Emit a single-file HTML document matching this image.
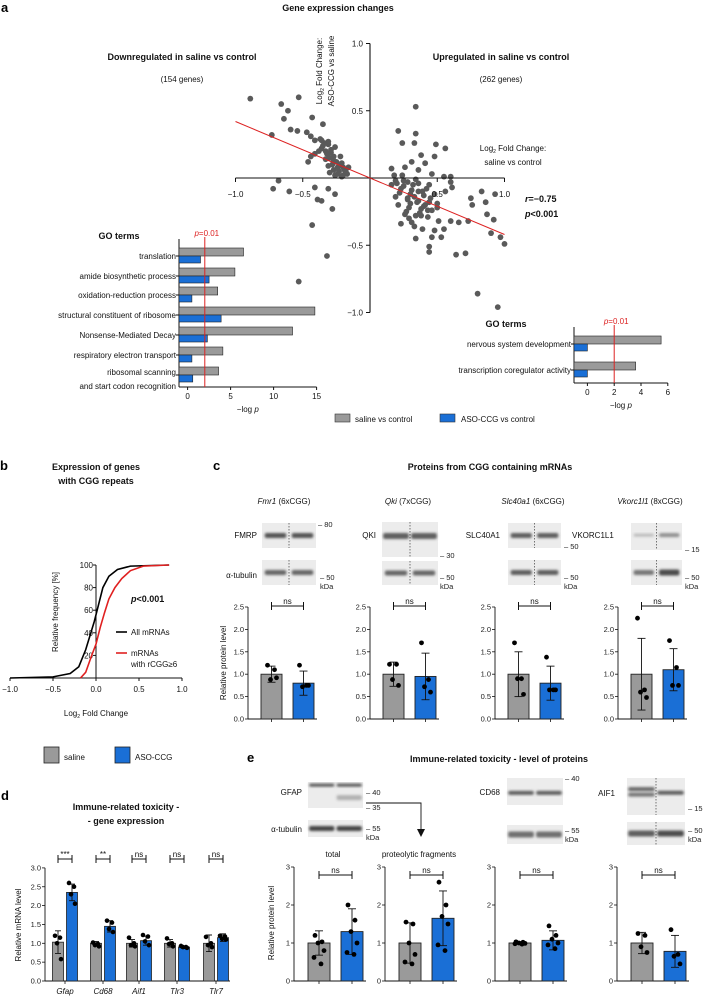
<!DOCTYPE html>
<html><head><meta charset="utf-8"><style>
body{margin:0;background:#fff}
svg{display:block;font-family:"Liberation Sans",sans-serif}
.t{font-size:8px;fill:#111}
.tk{font-size:7.5px;fill:#222}
.b{font-weight:bold;font-size:9px;fill:#111}
.pl{font-weight:bold;font-size:13px;fill:#000}
</style></head><body>
<svg id="fig" width="704" height="1000" viewBox="0 0 704 1000">
<defs><filter id="bl" x="-20%" y="-50%" width="140%" height="200%"><feGaussianBlur stdDeviation="1.3"/></filter></defs>
<text class="pl" x="1" y="12">a</text>
<text class="b" x="338" y="11" text-anchor="middle">Gene expression changes</text>
<text class="b" x="182" y="60" text-anchor="middle">Downregulated in saline vs control</text>
<text class="t" x="182" y="82" text-anchor="middle" font-size="9">(154 genes)</text>
<text class="b" x="501" y="60" text-anchor="middle">Upregulated in saline vs control</text>
<text class="t" x="501" y="82" text-anchor="middle" font-size="9">(262 genes)</text>
<g transform="translate(322,71) rotate(-90)"><text class="t" x="0" y="0" text-anchor="middle" font-size="9">Log<tspan font-size="5" dy="2">2</tspan><tspan dy="-2"> Fold Change:</tspan></text><text class="t" x="0" y="12" text-anchor="middle" font-size="9">ASO-CCG vs saline</text></g>
<text class="t" x="513" y="151" text-anchor="middle" font-size="9">Log<tspan font-size="5" dy="2">2</tspan><tspan dy="-2"> Fold Change:</tspan></text>
<text class="t" x="513" y="165" text-anchor="middle" font-size="9">saline vs control</text>
<text class="b" x="525" y="202"><tspan font-style="italic">r</tspan>=−0.75</text>
<text class="b" x="525" y="217"><tspan font-style="italic">p</tspan>&lt;0.001</text>
<text class="b" x="119" y="239" text-anchor="middle">GO terms</text>
<text class="b" x="506" y="327" text-anchor="middle">GO terms</text>
<g id="scatter"></g>
<g id="goL"></g>
<g id="goR"></g>
<g>
<rect x="335" y="414" width="15" height="8" fill="#9a9a9a" stroke="#333" stroke-width="0.6"/>
<text class="t" x="355" y="422" font-size="9">saline vs control</text>
<rect x="440" y="414" width="15" height="8" fill="#1a6fd6" stroke="#333" stroke-width="0.6"/>
<text class="t" x="461" y="422" font-size="9">ASO-CCG vs control</text>
</g>
<text class="pl" x="0" y="470">b</text>
<text class="b" x="96" y="470" text-anchor="middle">Expression of genes</text>
<text class="b" x="96" y="484" text-anchor="middle">with CGG repeats</text>
<g id="cdf"></g>
<text class="t" x="96" y="716" text-anchor="middle" font-size="9">Log<tspan font-size="5" dy="2">2</tspan><tspan dy="-2"> Fold Change</tspan></text>
<text class="t" transform="translate(58,612) rotate(-90)" text-anchor="middle" font-size="9">Relative frequency [%]</text>
<text class="b" x="131" y="602"><tspan font-style="italic">p</tspan>&lt;0.001</text>
<line x1="116" y1="632" x2="127" y2="632" stroke="#000" stroke-width="1.6"/>
<text class="t" x="131" y="635" font-size="9">All mRNAs</text>
<line x1="116" y1="653" x2="127" y2="653" stroke="#e02020" stroke-width="1.6"/>
<text class="t" x="131" y="656" font-size="9">mRNAs</text>
<text class="t" x="131" y="667" font-size="9">with rCGG≥6</text>
<text class="pl" x="213" y="470">c</text>
<text class="b" x="490" y="470" text-anchor="middle">Proteins from CGG containing mRNAs</text>
<text class="t" x="284" y="504" text-anchor="middle" font-size="9"><tspan font-style="italic">Fmr1</tspan> (6xCGG)</text>
<text class="t" x="408" y="504" text-anchor="middle" font-size="9"><tspan font-style="italic">Qki</tspan> (7xCGG)</text>
<text class="t" x="533" y="504" text-anchor="middle" font-size="9"><tspan font-style="italic">Slc40a1</tspan> (6xCGG)</text>
<text class="t" x="650" y="504" text-anchor="middle" font-size="9"><tspan font-style="italic">Vkorc1l1</tspan> (8xCGG)</text>
<text class="t" x="257" y="538" text-anchor="end" font-size="9">FMRP</text>
<text class="t" x="257" y="578" text-anchor="end" font-size="9">α-tubulin</text>
<text class="t" x="376" y="538" text-anchor="end" font-size="9">QKI</text>
<text class="t" x="500" y="538" text-anchor="end" font-size="9">SLC40A1</text>
<text class="t" x="572" y="538" font-size="9">VKORC1L1</text>
<g id="blots"></g>
<g id="barsC"></g>
<text class="t" transform="translate(226,663) rotate(-90)" text-anchor="middle" font-size="9">Relative protein level</text>
<rect x="44" y="747" width="15" height="16" fill="#9a9a9a" stroke="#222" stroke-width="0.8"/>
<text class="t" x="64" y="760" font-size="9">saline</text>
<rect x="115" y="747" width="15" height="16" fill="#1a6fd6" stroke="#222" stroke-width="0.8"/>
<text class="t" x="135" y="760" font-size="9">ASO-CCG</text>
<text class="pl" x="1" y="800">d</text>
<text class="b" x="126" y="810" text-anchor="middle">Immune-related toxicity -</text>
<text class="b" x="126" y="824" text-anchor="middle">- gene expression</text>
<g id="barsD"></g>
<text class="t" transform="translate(21,925) rotate(-90)" text-anchor="middle" font-size="9">Relative mRNA level</text>
<text class="pl" x="247" y="762">e</text>
<text class="b" x="499" y="762" text-anchor="middle">Immune-related toxicity - level of proteins</text>
<text class="t" x="302" y="795" text-anchor="end" font-size="9">GFAP</text>
<text class="t" x="302" y="832" text-anchor="end" font-size="9">α-tubulin</text>
<text class="t" x="500" y="795" text-anchor="end" font-size="9">CD68</text>
<text class="t" x="615" y="796" text-anchor="end" font-size="9">AIF1</text>
<path d="M366,803 H421 V830" fill="none" stroke="#111" stroke-width="0.9"/>
<path d="M417,829 L425,829 L421,837 Z" fill="#111"/>
<text class="t" x="333" y="857" text-anchor="middle" font-size="9">total</text>
<text class="t" x="419" y="857" text-anchor="middle" font-size="9">proteolytic fragments</text>
<g id="barsE"></g>
<text class="t" transform="translate(274,923) rotate(-90)" text-anchor="middle" font-size="9">Relative protein level</text>
</svg>
<script>
const NS='http://www.w3.org/2000/svg';
function mk(tag,attrs,parent){const e=document.createElementNS(NS,tag);for(const k in attrs)e.setAttribute(k,attrs[k]);parent.appendChild(e);return e;}
function txt(s,attrs,parent){const e=mk('text',attrs,parent);e.textContent=s;return e;}

const scatterX=[-0.89,-0.53,-0.66,-0.61,-0.64,-0.43,-0.35,-0.73,-0.59,-0.54,-0.47,-0.44,-0.41,-0.37,-0.34,-0.31,-0.36,-0.32,-0.29,-0.26,-0.41,-0.44,-0.27,-0.22,-0.21,-0.24,-0.19,-0.17,-0.27,-0.31,-0.46,-0.16,-0.68,-0.72,-0.6,-0.41,-0.31,-0.26,-0.39,-0.36,-0.28,-0.43,-0.32,-0.53,-0.21,-0.27,
-0.33,-0.3,-0.28,-0.25,-0.23,-0.35,-0.38,-0.2,-0.18,-0.3,-0.26,-0.22,-0.33,-0.29,-0.24,-0.2,-0.36,-0.31,
0.34,0.21,0.34,0.24,0.33,0.49,0.56,0.38,0.48,0.31,0.41,0.16,0.26,0.36,0.46,0.55,0.6,0.19,0.28,0.36,0.44,0.23,0.31,0.39,0.48,0.56,0.19,0.28,0.36,0.44,0.21,0.29,0.38,0.46,0.26,0.34,0.43,0.51,0.6,0.66,0.23,0.39,0.48,0.55,0.34,0.46,0.53,0.44,0.44,0.64,0.71,0.75,0.83,0.76,0.86,0.93,0.73,0.87,0.92,0.9,0.97,1.0,0.8,0.95,0.6,0.61,0.24,0.18,0.16,0.33,0.41,0.5,
0.25,0.3,0.35,0.4,0.27,0.32,0.37,0.42,0.22,0.29,0.34,0.4,0.45,0.3,0.25,0.38,0.33,0.28,0.43,0.5,0.2,0.36,0.31];
const scatterY=[0.59,0.6,0.55,0.5,0.44,0.45,0.4,0.32,0.36,0.35,0.34,0.31,0.28,0.29,0.26,0.27,0.22,0.18,0.21,0.23,0.18,0.16,0.13,0.16,0.11,0.08,0.06,0.03,0.06,0.09,0.12,0.08,-0.02,-0.08,-0.1,-0.07,-0.08,-0.12,-0.16,-0.17,-0.23,-0.35,-0.58,-0.77,0.01,0.16,
0.2,0.15,0.1,0.12,0.05,0.24,0.2,0.02,0.05,0.04,0.02,0.1,0.14,0.19,0.03,0.08,0.28,0.25,
0.53,0.35,0.33,0.26,0.26,0.25,0.22,0.17,0.16,0.12,0.11,0.07,0.08,0.06,0.03,0.01,0.01,-0.02,-0.03,-0.04,-0.05,-0.08,-0.09,-0.1,-0.12,-0.1,-0.14,-0.15,-0.17,-0.18,-0.2,-0.22,-0.23,-0.24,-0.27,-0.28,-0.29,-0.32,-0.32,-0.33,-0.34,-0.38,-0.39,-0.38,-0.45,-0.44,-0.44,-0.51,-0.55,-0.57,-0.56,-0.15,-0.1,-0.2,-0.18,-0.12,-0.32,-0.27,-0.31,-0.41,-0.44,-0.49,-0.86,-0.96,-0.03,-0.07,0.02,0.02,-0.05,-0.14,-0.2,-0.19,
-0.06,-0.12,-0.18,-0.13,-0.25,-0.05,-0.26,-0.08,-0.11,-0.3,-0.01,-0.21,-0.15,-0.19,-0.02,-0.28,-0.36,-0.16,-0.24,-0.22,-0.04,-0.1,-0.33];
const regLine=[-1,0.42,1,-0.42];
const scTicks=[-1.0,-0.5,0.5,1.0];
const sx=v=>370+v*134.5, sy=v=>178-v*134.5;
(function(){
 const g=document.getElementById('scatter');
 for(let i=0;i<scatterX.length;i++){
  const c=mk('circle',{cx:sx(scatterX[i]),cy:sy(scatterY[i]),r:2.9,fill:'#5a5a5a'},g);
  
  
 }
 const xa=mk('line',{x1:sx(-1),y1:178,x2:sx(1),y2:178,stroke:'#111','stroke-width':1.1},g);
 
 
 const ya=mk('line',{x1:370,y1:sy(1),x2:370,y2:sy(-1),stroke:'#111','stroke-width':1.1},g);
 
 
 scTicks.forEach(v=>{
  mk('line',{x1:sx(v),y1:178,x2:sx(v),y2:182,stroke:'#111'},g);
  const t=txt((v<0?'−':'')+Math.abs(v).toFixed(1),{class:'t','font-size':9,x:sx(v),y:197,'text-anchor':'middle'},g);
  
  
  mk('line',{x1:366,y1:sy(v),x2:370,y2:sy(v),stroke:'#111'},g);
  const u=txt((v<0?'−':'')+Math.abs(v).toFixed(1),{class:'t','font-size':9,x:363,y:sy(v)+3,'text-anchor':'end'},g);
  
  
 });
 const rl=mk('line',{x1:sx(regLine[0]),y1:sy(regLine[1]),x2:sx(regLine[2]),y2:sy(regLine[3]),stroke:'#dd2222','stroke-width':1},g);
 
 
})();

const goLeftTerms=[['translation'],['amide biosynthetic process'],['oxidation-reduction process'],['structural constituent of ribosome'],['Nonsense-Mediated Decay'],['respiratory electron transport'],['ribosomal scanning','and start codon recognition']];
const goLeftSaline=[6.5,5.5,3.5,14.8,12.2,4.1,3.6];
const goLeftASO=[1.5,2.5,0.5,3.9,2.3,0.5,0.6];
const goLeftTicks=[0,5,10,15];
const goRightTerms=[['nervous system development'],['transcription coregulator activity']];
const goRightSaline=[5.5,3.6];
const goRightASO=[0,0];
const goRightTicks=[0,2,4,6];
function goChart(g,terms,sal,aso,ticks,x0,ppu,rowY,axTop,axBot,name){
 const gx=v=>x0+(v+1)*ppu;
 const ax=mk('line',{x1:x0,y1:axTop,x2:x0,y2:axBot,stroke:'#111','stroke-width':1},g);
 
 
 const bx=mk('line',{x1:x0,y1:axBot,x2:gx(ticks[ticks.length-1]),y2:axBot,stroke:'#111','stroke-width':1},g);
 
 
 ticks.forEach(v=>{mk('line',{x1:gx(v),y1:axBot,x2:gx(v),y2:axBot+3,stroke:'#111'},g);
  const t=txt(String(v),{class:'t','font-size':9,x:gx(v),y:axBot+12,'text-anchor':'middle'},g);
  
  });
 const tt=txt('',{class:'t','font-size':9,x:(x0+gx(ticks[ticks.length-1]))/2,y:axBot+25,'text-anchor':'middle'},g);
 tt.innerHTML='−log <tspan font-style="italic">p</tspan>';
 
 
 terms.forEach((lines,i)=>{
  const y=rowY[i];
  const r1=mk('rect',{x:x0,y:y-8,width:gx(sal[i])-x0,height:8,fill:'#9a9a9a',stroke:'#222','stroke-width':0.6},g);
  
  
  const r2=mk('rect',{x:x0,y:y,width:gx(aso[i])-x0,height:7,fill:'#1a6fd6',stroke:'#222','stroke-width':0.6},g);
  
  
  mk('line',{x1:x0-3,y1:y,x2:x0,y2:y,stroke:'#111'},g);
  lines.forEach((s,j)=>{const t=txt(s,{class:'t','font-size':9,x:x0-3,y:y+3+(j-(lines.length-1)/2)*14+ (lines.length>1?4:0),'text-anchor':'end'},g);
   
   });
 });
 const p=mk('line',{x1:gx(2),y1:axTop-2,x2:gx(2),y2:axBot,stroke:'#dd2222','stroke-width':1},g);
 
 
 const pt=txt('',{class:'t','font-size':9,x:gx(2)+2,y:axTop-3,'text-anchor':'middle'},g);
 pt.innerHTML='<tspan font-style="italic">p</tspan>=0.01';
 pt.style.fill='#dd2222';
 
 
}
goChart(document.getElementById('goL'),goLeftTerms,goLeftSaline,goLeftASO,goLeftTicks,179,8.6,[256,276,295,315,335,355,375],239,387,'go-left');
goChart(document.getElementById('goR'),goRightTerms,goRightSaline,goRightASO,goRightTicks,574,13.4,[344,370],327,383,'go-right');

const cdfAllX=[-1,-0.5,-0.3,-0.2,-0.12,-0.06,-0.02,0.03,0.08,0.15,0.25,0.4,0.85];
const cdfAllP=[0,1,4,10,25,40,50,65,80,90,96,99,100];
const cdfCggX=[-0.18,-0.12,-0.05,0.0,0.05,0.1,0.15,0.22,0.3,0.4,0.55,0.85];
const cdfCggP=[0,5,20,30,45,58,70,80,88,95,99,100];
const cdfXTicks=[-1.0,-0.5,0.0,0.5,1.0];
const cdfYTicks=[20,40,60,80,100];
(function(){
 const g=document.getElementById('cdf');
 const cx=v=>96+v*86, cy=v=>678-v*1.13;
 const ln=mk('line',{x1:cx(-1),y1:678,x2:cx(1),y2:678,stroke:'#111'},g);
 
 
 const la=mk('line',{x1:96,y1:cy(100),x2:96,y2:678,stroke:'#111'},g);
 
 
 cdfXTicks.forEach(v=>{mk('line',{x1:cx(v),y1:678,x2:cx(v),y2:681,stroke:'#111'},g);
  const t=txt((v<0?'−':'')+Math.abs(v).toFixed(1),{class:'t','font-size':9,x:cx(v),y:692,'text-anchor':'middle'},g);
  
  });
 cdfYTicks.forEach(v=>{mk('line',{x1:93,y1:cy(v),x2:96,y2:cy(v),stroke:'#111'},g);
  const t=txt(String(v),{class:'t','font-size':9,x:93,y:cy(v)+3,'text-anchor':'end'},g);
  
  });
 const pa=mk('polyline',{points:cdfAllX.map((x,i)=>cx(x)+','+cy(cdfAllP[i])).join(' '),fill:'none',stroke:'#000','stroke-width':1.6},g);
 
 
 const pc=mk('polyline',{points:cdfCggX.map((x,i)=>cx(x)+','+cy(cdfCggP[i])).join(' '),fill:'none',stroke:'#e02020','stroke-width':1.6},g);
 
 
})();

(function(){
 const g=document.getElementById('blots');
 function blot(x,y,w,h,bands,dotted,name){
  const r=mk('rect',{x:x,y:y,width:w,height:h,fill:'#ececec'},g);
  
  
  bands.forEach(b=>mk('rect',{x:x+b[0]*w,y:y+b[1]*h-b[3]/2,width:b[2]*w,height:b[3],rx:2,fill:'#444','fill-opacity':b[4],filter:'url(#bl)'},g));
  if(dotted)mk('line',{x1:x+w/2,y1:y,x2:x+w/2,y2:y+h,stroke:'#222','stroke-width':0.6,'stroke-dasharray':'1.5,1.5'},g);
 }
 const L=(o)=>[[0.05,0.5,0.4,5,o],[0.55,0.5,0.4,5,o]];
 blot(262,523,54,25,L(0.9),true,'blot-fmrp');
 blot(262,560,54,25,L(0.8),true,'blot-tubulin-fmr1');
 blot(382,522,56,35,[[0.02,0.4,0.46,6,0.85],[0.52,0.4,0.46,6,0.85]],true,'blot-qki');
 blot(382,561,56,24,L(0.8),true,'blot-tubulin-qki');
 blot(508,523,53,25,L(0.85),true,'blot-slc40a1');
 blot(508,560,53,25,L(0.85),true,'blot-tubulin-slc40a1');
 blot(631,523,51,27,[[0.05,0.45,0.4,3,0.3],[0.55,0.45,0.4,4,0.55]],true,'blot-vkorc1l1');
 blot(631,560,51,25,[[0.05,0.5,0.4,5,0.7],[0.55,0.5,0.4,6,0.95]],true,'blot-tubulin-vkorc1l1');
 blot(308,782,55,26,[[0.02,0.12,0.46,3,0.9],[0.52,0.12,0.46,3,0.9],[0.52,0.6,0.46,5,0.35]],false,'blot-gfap');
 blot(308,820,55,17,[[0.02,0.5,0.46,5,1],[0.52,0.5,0.46,5,1]],false,'blot-tubulin-gfap');
 blot(507,778,56,27,[[0.02,0.55,0.46,4,0.85],[0.52,0.55,0.46,4,0.85]],false,'blot-cd68');
 blot(507,825,56,19,[[0.02,0.5,0.46,6,0.75],[0.52,0.5,0.46,6,0.75]],false,'blot-tubulin-cd68');
 blot(627,778,58,37,[[0.02,0.3,0.46,4,0.8],[0.02,0.45,0.46,4,0.7],[0.52,0.4,0.46,4,0.85]],true,'blot-aif1');
 blot(627,822,58,23,[[0.02,0.5,0.46,6,0.85],[0.52,0.5,0.46,6,0.95]],true,'blot-tubulin-aif1');
 const mks=[[318,527,'80'],[320,580,'50'],[320,589,'kDa'],[440,558,'30'],[440,580,'50'],[440,589,'kDa'],[564,549,'50'],[564,580,'50'],[564,589,'kDa'],[685,552,'15'],[685,580,'50'],[685,589,'kDa'],
  [366,795,'40'],[366,810,'35'],[366,831,'55'],[366,840,'kDa'],[565,781,'40'],[565,833,'55'],[565,842,'kDa'],[688,811,'15'],[688,833,'50'],[688,842,'kDa']];
 mks.forEach(m=>{const t=txt((m[2]==='kDa'?'':'– ')+m[2],{class:'tk','font-size':7,x:m[0],y:m[1]},g);
  
  });
})();

function barPanel(g,axisX,y0,ppu,yTicks,tickFmt,grayC,blueC,bw,gm,gs,gp,bm,bs,bp,sig,name){
 const yy=v=>y0-v*ppu;
 const top=yy(yTicks[yTicks.length-1]);
 const a=mk('line',{x1:axisX,y1:top,x2:axisX,y2:y0,stroke:'#111','stroke-width':0.9},g);
 
 
 const b=mk('line',{x1:axisX,y1:y0,x2:blueC+bw/2+3,y2:y0,stroke:'#111','stroke-width':0.9},g);
 
 
 yTicks.forEach(v=>{mk('line',{x1:axisX-3,y1:yy(v),x2:axisX,y2:yy(v),stroke:'#111','stroke-width':0.8},g);
  const t=txt(tickFmt(v),{class:'tk','font-size':7,x:axisX-4,y:yy(v)+2.5,'text-anchor':'end'},g);
  
  });
 const jit=[-4,3,-1,5,-5,2];
 [[grayC,gm,gs,gp,'#9a9a9a','saline'],[blueC,bm,bs,bp,'#1a6fd6','aso']].forEach(s=>{
  const r=mk('rect',{x:s[0]-bw/2,y:yy(s[1]),width:bw,height:s[1]*ppu,fill:s[4],stroke:'#222','stroke-width':0.9},g);
  
  
  mk('line',{x1:s[0],y1:yy(s[1]+s[2]),x2:s[0],y2:yy(s[1]-s[2]),stroke:'#111','stroke-width':0.9},g);
  mk('line',{x1:s[0]-4,y1:yy(s[1]+s[2]),x2:s[0]+4,y2:yy(s[1]+s[2]),stroke:'#111','stroke-width':0.9},g);
  mk('line',{x1:s[0]-4,y1:yy(s[1]-s[2]),x2:s[0]+4,y2:yy(s[1]-s[2]),stroke:'#111','stroke-width':0.9},g);
  mk('line',{x1:s[0],y1:y0,x2:s[0],y2:y0+3,stroke:'#111','stroke-width':0.8},g);
  s[3].forEach((v,i)=>{const c=mk('circle',{cx:s[0]+jit[i%6],cy:yy(v),r:2.4,fill:'#000'},g);
   
   });
 });
 return {yy};
}
function bracket(g,x1,x2,y,label){
 mk('path',{d:`M${x1},${y-4} V${y+4} M${x1},${y} H${x2} M${x2},${y-4} V${y+4}`,stroke:'#111','stroke-width':1,fill:'none'},g);
 const t=txt(label,{class:'t','font-size':9,x:(x1+x2)/2,y:y-2,'text-anchor':'middle'},g);
 
 
}
const cGrayMean=[1,1,1,1];
const cGraySd=[0.18,0.27,0.5,0.8];
const cBlueMean=[0.8,0.95,0.8,1.1];
const cBlueSd=[0.27,0.52,0.38,0.47];
const cGrayPts=[[1.2,1.1,0.88,0.92],[1.22,1.22,0.88,0.75],[1.7,0.9,0.9,0.55],[2.25,0.65,0.6,0.48]];
const cBluePts=[[1.2,0.75,0.72,0.75],[1.7,0.88,0.72,0.6],[1.38,0.65,0.65,0.65],[1.75,1.15,0.75,0.75]];
const cTicks=[0,0.5,1,1.5,2,2.5];
const cSig=['ns','ns','ns','ns'];
(function(){
 const g=document.getElementById('barsC');
 const grayLeft=[261,383,508,631];
 for(let i=0;i<4;i++){
  const gl=grayLeft[i];
  barPanel(g,gl-13,719,44.8,cTicks,v=>v.toFixed(1),gl+10.5,gl+42.5,21,cGrayMean[i],cGraySd[i],cGrayPts[i],cBlueMean[i],cBlueSd[i],cBluePts[i],cSig[i],'c-panel-'+(i+1));
  bracket(g,gl+10.5,gl+42.5,606,cSig[i]);
 }
})();
const dGenes=['Gfap','Cd68','Aif1','Tlr3','Tlr7'];
const dGrayMean=[1.03,1.0,1.0,1.0,1.0];
const dGraySd=[0.3,0.05,0.1,0.1,0.22];
const dBlueMean=[2.35,1.45,1.07,0.9,1.15];
const dBlueSd=[0.22,0.15,0.12,0.03,0.1];
const dGrayPts=[[1.2,1.15,1.0,0.58],[1.02,0.98,0.95,0.92],[1.15,1.0,0.95,0.92],[1.13,1.0,0.98,0.92],[1.17,1.0,0.95,0.9]];
const dBluePts=[[2.6,2.5,2.3,2.05],[1.6,1.55,1.38,1.3],[1.22,1.18,1.05,0.95],[0.93,0.9,0.9,0.88],[1.2,1.18,1.12,1.1]];
const dTicks=[0,0.5,1,1.5,2,2.5,3];
const dSig=['***','**','ns','ns','ns'];
(function(){
 const g=document.getElementById('barsD');
 const centers=[65,103,139,177,216];
 const ppu=37.7,y0=981,ax=45;
 const yy=v=>y0-v*ppu;
 const a=mk('line',{x1:ax,y1:yy(3),x2:ax,y2:y0,stroke:'#111','stroke-width':0.9},g);
 
 
 const b=mk('line',{x1:ax,y1:y0,x2:230,y2:y0,stroke:'#111','stroke-width':0.9},g);
 
 
 dTicks.forEach(v=>{mk('line',{x1:ax-3,y1:yy(v),x2:ax,y2:yy(v),stroke:'#111','stroke-width':0.8},g);
  const t=txt(v.toFixed(1),{class:'tk','font-size':7,x:ax-4,y:yy(v)+2.5,'text-anchor':'end'},g);
  
  });
 const jit=[-3,2,-1,3];
 dGenes.forEach((gn,i)=>{
  const c=centers[i];
  [[c-7,dGrayMean[i],dGraySd[i],dGrayPts[i],'#9a9a9a','saline'],[c+7,dBlueMean[i],dBlueSd[i],dBluePts[i],'#1a6fd6','aso']].forEach(s=>{
   const r=mk('rect',{x:s[0]-5.5,y:yy(s[1]),width:11,height:s[1]*ppu,fill:s[4],stroke:'#222','stroke-width':0.8},g);
   
   
   mk('path',{d:`M${s[0]},${yy(s[1]+s[2])} V${yy(s[1]-s[2])} M${s[0]-3},${yy(s[1]+s[2])} h6 M${s[0]-3},${yy(s[1]-s[2])} h6`,stroke:'#111','stroke-width':0.9,fill:'none'},g);
   s[3].forEach((v,k)=>{const p=mk('circle',{cx:s[0]+jit[k],cy:yy(v),r:2.3,fill:'#000'},g);
    
    });
  });
  mk('line',{x1:c,y1:y0,x2:c,y2:y0+3,stroke:'#111','stroke-width':0.8},g);
  const t=txt(gn,{class:'t','font-size':9,x:c,y:994,'text-anchor':'middle','font-style':'italic'},g);
  
  
  bracket(g,c-7,c+7,859,dSig[i]);
 });
})();
const eGrayMean=[1,1,1,1];
const eGraySd=[0.32,0.53,0.03,0.28];
const eBlueMean=[1.3,1.65,1.07,0.78];
const eBlueSd=[0.6,0.72,0.25,0.42];
const eGrayPts=[[1.2,1.03,1.0,0.8,0.62,0.45],[1.55,1.5,1.0,0.7,0.5,0.45],[1.03,1.02,1.0,0.99,0.98,0.97],[1.25,1.2,0.9,0.75]];
const eBluePts=[[2.0,1.6,1.3,1.0,0.75,0.7],[2.6,2.0,1.7,1.5,0.95,0.8],[1.45,1.2,1.1,1.0,0.95,0.85],[1.35,0.7,0.65,0.45]];
const eTicks=[0,1,2,3];
const eSig=['ns','ns','ns','ns'];
(function(){
 const g=document.getElementById('barsE');
 const grayLeft=[308,399,509,631];
 for(let i=0;i<4;i++){
  const gl=grayLeft[i];
  barPanel(g,gl-14,981,38,eTicks,v=>String(v),gl+11,gl+44,22,eGrayMean[i],eGraySd[i],eGrayPts[i],eBlueMean[i],eBlueSd[i],eBluePts[i],eSig[i],'e-panel-'+(i+1));
  bracket(g,gl+11,gl+44,875,eSig[i]);
 }
})();
</script>
</body></html>
